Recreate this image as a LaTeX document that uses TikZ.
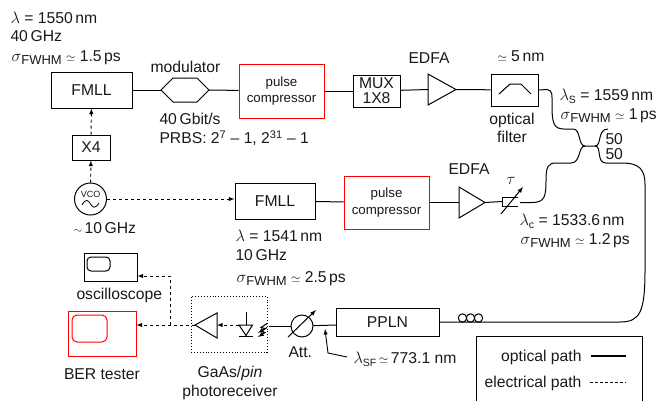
\documentclass[tikz,border=0pt]{standalone}
\usepackage{fontspec}
\setmainfont{Liberation Sans}
\newcommand{\lsub}[2][10.5]{\raisebox{-0.4ex}{\fontsize{#1}{#1}\selectfont #2}}
\newcommand{\lam}{\scalebox{1.15}{$\lambda$}}
\newcommand{\fwhm}{\scalebox{1.15}{$\sigma$}\lsub[13]{FWHM}}
\newcommand{\apx}{{\fontsize{11.5}{11.5}\selectfont$\simeq$}}
\tikzset{
  box/.style={draw,line width=1pt,inner sep=0pt,align=center},
  redbox/.style={box,draw=red,fill=white,font=\fontsize{13.3}{16.3}\selectfont},
  opt/.style={line width=1pt},
  elec/.style={line width=.95pt,dash pattern=on 3pt off 3pt,-latex},
  lab/.style={anchor=base west,inner sep=0pt,font=\fontsize{15.7}{18}\selectfont},
  midlab/.style={anchor=base,inner sep=0pt,font=\fontsize{15.7}{18}\selectfont}
}
\begin{document}
\begin{tikzpicture}[x=1pt,y=-1pt,line width=1pt,every node/.append style={text=black!90}]
  \useasboundingbox (0,0) rectangle (671,400);

  % boxes
  \begin{scope}[every node/.append style={font=\fontsize{15.7}{16}\selectfont}]
    \node[box,minimum width=81pt,minimum height=36pt] (fmlla) at (91.5,90) {FMLL};
    \node[box,minimum width=38pt,minimum height=25pt] (xfour) at (91,147.5) {X4};
    \node[box,minimum width=47pt,minimum height=32pt] (mux) at (376.5,91) {MUX\\[-1pt]1X8};
    \node[box,minimum width=47pt,minimum height=32pt] (filter) at (514.5,90) {};
    \node[box,minimum width=80pt,minimum height=36pt] (fmllb) at (275,201) {FMLL};
    \node[box,minimum width=103pt,minimum height=28pt] (ppln) at (387.5,322) {PPLN};
  \end{scope}
  \node[redbox,minimum width=85pt,minimum height=54pt] (pca) at (281.5,91) {pulse\\compressor};
  \node[redbox,minimum width=85pt,minimum height=53pt] (pcb) at (386.5,202.5) {pulse\\compressor};
  \node[draw,circle,minimum size=32pt,inner sep=0pt] (vco) at (90.5,199) {};
  \node[inner sep=0pt,font=\fontsize{9}{9}\selectfont] (vcotxt) at (90.5,194) {VCO};
  \draw[line width=.8pt] (82,205) .. controls (86,198) and (88,200) .. (90.5,204) .. controls (93,208) and (95,209) .. (99,203);

  % modulator, amplifiers
  \draw (161,90) coordinate (modin) -- (173,78) -- (197,78) -- (209,90) coordinate (modout) -- (197,102) -- (173,102) -- cycle;
  \draw (428,74) -- (456,89.5) coordinate (edfaaout) -- (428,105) -- cycle;
  \coordinate (edfaain) at (428,89.5);
  \draw (459,187) -- (485,202.5) coordinate (edfabout) -- (459,218) -- cycle;
  \coordinate (edfabin) at (459,202.5);
  \draw (499,94) -- (510,84) -- (521,84) -- (531,94);

  % delay line
  \coordinate (delay) at (502,201.5);
  \draw (518,197) -- (502,197) -- (502,206) -- (518,206);
  \draw[opt,-latex] (501,214) -- (523,187);

  % top line
  \foreach \a/\b in {fmlla/modin, modout/pca, pca/mux, mux/edfaain, edfaaout/filter, fmllb/pcb, pcb/edfabin, edfabout/delay} {
    \draw[opt] (\a) -- (\b);
  }
  \draw[elec] (vco) -- (fmllb.west |- vco);
  \draw[elec] (vco) -- (xfour);
  \draw[elec] (xfour) -- (fmlla);

  % fibre and coupler
  \coordinate (cpla) at (585,146);
  \coordinate (cplb) at (595,146);
  \draw[opt] (filter.east) -- (547,89.5) .. controls (553,90) and (552,96) .. (552,104) .. controls (552,122) and (553,129) .. (564,129) -- (573,129)
     .. controls (581,129) and (578,146) .. (cpla) -- (cplb)
     .. controls (602,146) and (597,129) .. (608,129);
  \draw[opt] (520,202.5) -- (532,202.5) .. controls (545,202.5) and (546,196) .. (546,180) .. controls (546,167) and (548,163) .. (556,163) -- (571,163)
     .. controls (581,163) and (578,146) .. (cpla);
  \draw[opt] (cplb) .. controls (602,146) and (596,163) .. (606,163) -- (622,163)
     .. controls (640,163) and (645,170) .. (645,185) -- (645,270) .. controls (645,312) and (640,322) .. (620,322) -- (ppln.east |- 0,322);

  % fibre loops
  \foreach \lx in {462.5,470.5,478.5} {
    \draw[line width=1pt] (\lx,318) circle (4.2);
  }

  % attenuator
  \node[draw,circle,minimum size=22pt,inner sep=0pt] (att) at (302,326) {};
  \coordinate (pplnin) at (336,325);
  \coordinate (rxout) at (269,326);
  \draw[opt] (rxout) -- (att);
  \draw[opt] (att) -- (pplnin);
  \draw[opt,-latex] (288,337) -- (316,310);

  % photoreceiver
  \node[draw,line width=.9pt,dotted,minimum width=76pt,minimum height=56pt] (rxbox) at (229,324) {};
  \draw (217,313) -- (195,325) coordinate (rxamp) -- (217,338) -- cycle;
  \coordinate (rxin) at (217,325);
  \coordinate (diode) at (239,325);
  \draw (246,312) -- (246,325);
  \draw (239,325) -- (252.5,325) -- (246,335.5) -- cycle;
  \draw (239,336) -- (253,336);
  \foreach \dy in {0,4} {
    \draw[line width=1pt,-latex] (267,323.5+\dy) -- (261,327.5+\dy) -- (265,328.5+\dy) -- (258,333+\dy);
  }
  \draw[elec] (diode) -- (rxin);

  % scope and tester
  \node[box,minimum width=53pt,minimum height=28pt] (osc) at (110.5,267) {};
  \node[draw,line width=1pt,rounded corners=4pt,minimum width=23pt,minimum height=14pt,inner sep=0pt] (oscscr) at (98.5,264) {};
  \node[box,draw=red,minimum width=68pt,minimum height=45pt] (ber) at (102,333.5) {};
  \node[draw=red,line width=1pt,rounded corners=5pt,minimum width=35pt,minimum height=27pt,inner sep=0pt] (berscr) at (89.5,328.5) {};
  \coordinate (tap) at (170,325);
  \draw[elec] (rxamp) -- (ber.east |- rxamp);
  \draw[elec] (tap) -- (170,276) -- (osc.east |- 0,276);

  % arrow to the wavelength label
  \coordinate (sflbl) at (347,357);
  \coordinate (sfpt) at (325,329);
  \draw[line width=.9pt,-latex] (sflbl) -- (328,353) -- (sfpt);

  % labels
  \node[lab] (laba) at (10,23) {\lam\ = 1550\,nm};
  \node[lab] (labb) at (10,41.5) {40\,GHz};
  \node[lab] (labw) at (11,61) {\fwhm\ \apx\ 1.5\,ps};
  \node[lab] (labmod) at (150,72) {modulator};
  \node[lab] (labbit) at (159,124.7) {40\,Gbit/s};
  \node[lab] (labprbs) at (159,143.7) {PRBS: 2\textsuperscript{7} -- 1, 2\textsuperscript{31} -- 1};
  \node[midlab] (labedfaa) at (429,63) {EDFA};
  \node[lab] (labbw) at (497,61) {\apx\ 5\,nm};
  \node[midlab] (labopt) at (512,124) {optical};
  \node[midlab] (labfil) at (512,142.7) {filter};
  \node[lab] (labs) at (559,100) {\lam\lsub{S} = 1559\,nm};
  \node[lab] (labsw) at (560,119) {\fwhm\ \apx\ 1\,ps};
  \node[lab] (labfa) at (605,144) {50};
  \node[lab] (labfb) at (605,159) {50};
  \node[midlab] (labedfab) at (469,174) {EDFA};
  \node[midlab] (labtau) at (511,184) {\scalebox{1.15}{$\tau$}};
  \node[lab] (labc) at (519,225) {\lam\lsub{c} = 1533.6\,nm};
  \node[lab] (labcw) at (520,244) {\fwhm\ \apx\ 1.2\,ps};
  \node[lab] (labvco) at (73,233) {{\fontsize{11}{11}\selectfont$\sim$}\,10\,GHz};
  \node[lab] (labd) at (235,241) {\lam\ = 1541\,nm};
  \node[lab] (labe) at (235,260) {10\,GHz};
  \node[lab] (labf) at (236,282) {\fwhm\ \apx\ 2.5\,ps};
  \node[lab] (labosc) at (76,299) {oscilloscope};
  \node[lab] (labber) at (63.5,379) {BER tester};
  \node[midlab] (labgaas) at (230,377) {GaAs/\textit{pin}};
  \node[midlab] (labrx) at (230,396) {photoreceiver};
  \node[lab] (labatt) at (288,357) {Att.};
  \node[lab] (labsf) at (353,363) {\lam\lsub{SF}\,\apx\,773.1 nm};

  % legend
  \node[draw,line width=1pt,minimum width=166pt,minimum height=70pt] (legend) at (559,371) {};
  \node[lab,anchor=base east] (labop) at (582,361) {optical path};
  \node[lab,anchor=base east] (label) at (582,387) {electrical path};
  \coordinate (lgaa) at (591,356);
  \coordinate (lgab) at (626,356);
  \coordinate (lgba) at (590,382);
  \coordinate (lgbb) at (626,382);
  \draw[line width=1.2pt] (lgaa) -- (lgab);
  \draw[line width=.8pt,dash pattern=on 2.5pt off 2.5pt] (lgba) -- (lgbb);
\end{tikzpicture}
\end{document}
